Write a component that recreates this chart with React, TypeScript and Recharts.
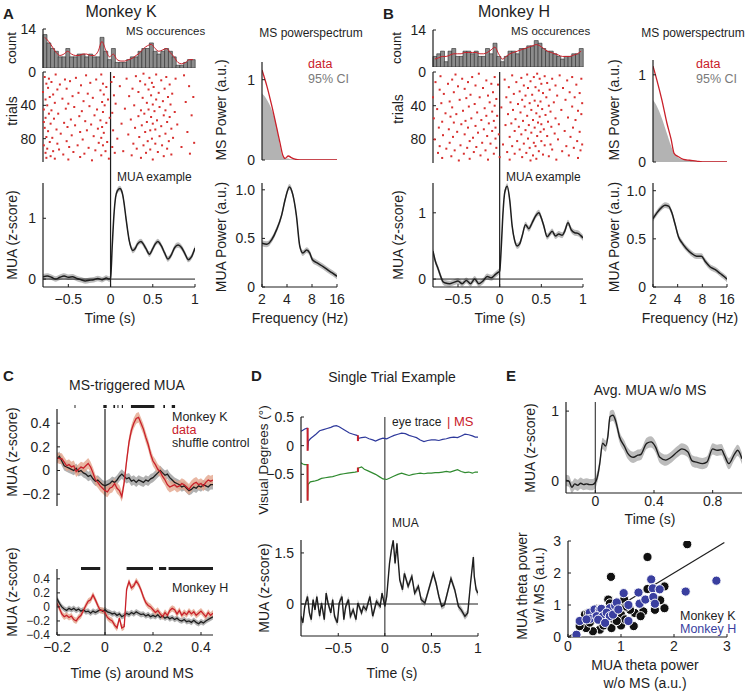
import React from "react";
import {
  ComposedChart,
  ScatterChart,
  Bar,
  Line,
  Area,
  Scatter,
  XAxis,
  YAxis,
  ReferenceLine,
} from "recharts";

// ---------- data ----------
// Panel A (monkey K)
const A_HIST = [12, 9, 7, 6, 4, 4, 7, 4, 4, 5, 5, 4, 5, 4, 4, 11, 6, 3, 7, 2, 2, 2, 3, 4, 4, 6, 7, 7, 9, 6, 5, 6, 7, 6, 4, 1, 1, 2, 3, 3];
const A_SMOOTH = [11, 9.5, 7.5, 5.5, 4.5, 5, 6, 5, 4.5, 4.5, 5, 5, 4.5, 4.5, 6, 9.5, 6.5, 4, 5, 3, 2.5, 2.5, 3, 3.5, 4.5, 5.5, 7, 8, 8.5, 7, 6, 6.5, 7, 5.5, 4, 2, 1.5, 2, 3, 3];
const A_RASTER = [
  [-0.8, 24], [-0.79, 45], [-0.79, 88], [-0.78, 6], [-0.78, 67], [-0.77, 97], [-0.77, 33], [-0.77, 55], [-0.76, 14], [-0.76, 78], [-0.76, 103], [-0.79, 60],
  [-0.75, 40], [-0.75, 92], [-0.74, 19], [-0.74, 71], [-0.73, 50], [-0.73, 8], [-0.72, 84], [-0.72, 30], [-0.71, 101],
  [-0.71, 62], [-0.7, 12], [-0.7, 46], [-0.69, 79], [-0.68, 27], [-0.68, 95], [-0.67, 56],
  [-0.66, 37], [-0.66, 104], [-0.65, 3], [-0.64, 69], [-0.63, 21], [-0.63, 86],
  [-0.62, 50], [-0.61, 93], [-0.6, 15], [-0.59, 74], [-0.57, 32], [-0.56, 99], [-0.55, 61], [-0.54, 9],
  [-0.53, 44], [-0.52, 83], [-0.52, 20], [-0.51, 66], [-0.5, 105], [-0.5, 38], [-0.49, 90],
  [-0.48, 11], [-0.47, 57], [-0.46, 76], [-0.45, 29], [-0.44, 96], [-0.43, 42], [-0.42, 64], [-0.41, 7],
  [-0.39, 88], [-0.38, 25], [-0.37, 53], [-0.36, 102], [-0.36, 72], [-0.35, 16], [-0.34, 47], [-0.33, 81], [-0.32, 35], [-0.31, 98],
  [-0.3, 59], [-0.29, 4], [-0.28, 70], [-0.27, 26], [-0.26, 91], [-0.25, 41], [-0.24, 13], [-0.23, 63], [-0.22, 106],
  [-0.21, 31], [-0.2, 77], [-0.19, 52], [-0.18, 94], [-0.17, 9], [-0.16, 45], [-0.15, 68], [-0.14, 85],
  [-0.12, 22], [-0.12, 58], [-0.11, 3], [-0.11, 79], [-0.11, 100], [-0.1, 36], [-0.1, 66], [-0.09, 14], [-0.09, 48], [-0.09, 88], [-0.08, 27],
  [-0.08, 73], [-0.07, 40], [-0.06, 95], [-0.05, 18], [-0.05, 61], [-0.04, 84], [-0.03, 33], [-0.02, 104], [-0.01, 55],
  [0.01, 12], [0.02, 49], [0.02, 90], [0.03, 70], [0.04, 6], [0.04, 28], [0.05, 97], [0.06, 38], [0.08, 80],
  [0.11, 17], [0.13, 62], [0.15, 95], [0.17, 44], [0.19, 8], [0.21, 75], [0.22, 29],
  [0.24, 57], [0.25, 100], [0.26, 20], [0.27, 86], [0.28, 40], [0.29, 67], [0.3, 5], [0.31, 92],
  [0.33, 24], [0.33, 53], [0.34, 78], [0.35, 11], [0.36, 103], [0.36, 46],
  [0.37, 64], [0.38, 31], [0.39, 88], [0.39, 2], [0.4, 50], [0.41, 72], [0.41, 15],
  [0.42, 97], [0.43, 37], [0.43, 60], [0.44, 83], [0.45, 21], [0.45, 45], [0.46, 7],
  [0.47, 70], [0.47, 93], [0.48, 28], [0.48, 54], [0.49, 13], [0.49, 80], [0.5, 39], [0.5, 105], [0.5, 62],
  [0.51, 18], [0.52, 47], [0.53, 86], [0.53, 69], [0.54, 3], [0.54, 33], [0.55, 58], [0.56, 96], [0.57, 25], [0.58, 77], [0.58, 42],
  [0.6, 10], [0.6, 65], [0.61, 88], [0.62, 35], [0.63, 52], [0.63, 101],
  [0.64, 20], [0.65, 74], [0.65, 46], [0.66, 6], [0.67, 92], [0.67, 60], [0.68, 30],
  [0.69, 83], [0.7, 15], [0.7, 54], [0.71, 39], [0.72, 99], [0.72, 68], [0.73, 26], [0.74, 79], [0.76, 48], [0.77, 8],
  [0.79, 63], [0.84, 90], [0.87, 4], [0.89, 36], [0.91, 72], [0.93, 17], [0.94, 98], [0.96, 52], [0.98, 30], [0.99, 85],
];
const A_MUA_T = [-0.8, -0.75, -0.7, -0.65, -0.6, -0.55, -0.5, -0.45, -0.4, -0.35, -0.3, -0.25, -0.2, -0.15, -0.1, -0.05, -0.02, 0, 0.02, 0.04, 0.06, 0.08, 0.11, 0.14, 0.16, 0.18, 0.2, 0.22, 0.24, 0.26, 0.29, 0.32, 0.36, 0.39, 0.42, 0.46, 0.5, 0.53, 0.56, 0.6, 0.64, 0.68, 0.72, 0.76, 0.8, 0.84, 0.88, 0.92, 0.96, 1.0];
const A_MUA = [0.04, 0.05, 0.03, 0.0, 0.03, 0.05, 0.03, 0.04, 0.01, -0.01, -0.03, -0.02, -0.01, 0.01, -0.01, 0.02, 0.0, 0.01, 0.55, 1.05, 1.35, 1.45, 1.49, 1.41, 1.25, 1.03, 0.82, 0.64, 0.53, 0.47, 0.5, 0.58, 0.62, 0.57, 0.5, 0.41, 0.5, 0.58, 0.62, 0.55, 0.43, 0.33, 0.4, 0.52, 0.56, 0.52, 0.42, 0.32, 0.37, 0.51];
const A_MS_F = [2, 2.29, 2.63, 3.01, 3.3, 3.56, 3.8, 4.15, 4.5, 5, 5.7, 6.5, 8, 10, 12, 16];
const A_MS_DATA = [1.12, 0.92, 0.67, 0.4, 0.21, 0.06, 0.02, 0.05, 0.03, 0.01, 0, 0, 0, 0, 0, 0];
const A_MS_CI = [0.83, 0.75, 0.62, 0.42, 0.17, 0.04, 0.02, 0.02, 0.01, 0.01, 0.01, 0.01, 0.01, 0.01, 0.01, 0.01];
const A_POW_F = [2, 2.29, 2.63, 3.0, 3.45, 3.8, 4.28, 4.7, 5.2, 5.7, 6.2, 6.9, 7.5, 8.1, 9.1, 10.9, 13.1, 14.3, 16];
const A_POW = [0.45, 0.44, 0.49, 0.59, 0.74, 0.9, 1.03, 0.95, 0.73, 0.42, 0.35, 0.38, 0.35, 0.28, 0.25, 0.21, 0.16, 0.14, 0.11];

// Panel B (monkey H)
const B_HIST = [4, 5, 6, 2, 6, 7, 4, 4, 6, 6, 5, 6, 4, 4, 7, 5, 9, 4, 2, 4, 6, 6, 5, 7, 7, 8, 8, 10, 9, 7, 6, 6, 5, 4, 3, 4, 4, 5, 5, 7];
const B_SMOOTH = [3, 3.5, 4, 4, 4.5, 5, 5, 5, 5.5, 5.5, 5.5, 5.5, 5, 5, 5.5, 6.5, 7.5, 5, 3, 4, 5, 5.5, 6, 6.5, 7, 7.5, 8, 8.5, 8, 7, 6, 5.5, 5, 4.5, 4, 4, 4, 4.5, 5, 6];
const B_RASTER = [
  [-0.8, 30], [-0.79, 55], [-0.78, 80], [-0.77, 12], [-0.75, 44], [-0.74, 96], [-0.73, 66], [-0.72, 21], [-0.72, 88],
  [-0.71, 5], [-0.7, 37], [-0.69, 59], [-0.69, 102], [-0.68, 75], [-0.67, 26], [-0.65, 49], [-0.64, 91],
  [-0.62, 14], [-0.61, 68], [-0.6, 35], [-0.6, 84], [-0.59, 53], [-0.58, 100],
  [-0.57, 9], [-0.57, 42], [-0.56, 77], [-0.55, 24], [-0.55, 60], [-0.54, 93], [-0.53, 3],
  [-0.52, 50], [-0.51, 71], [-0.5, 17], [-0.49, 105], [-0.48, 33], [-0.47, 87], [-0.46, 62], [-0.45, 8],
  [-0.44, 46], [-0.43, 97], [-0.42, 20], [-0.42, 74], [-0.41, 58], [-0.4, 31],
  [-0.39, 90], [-0.38, 12], [-0.38, 66], [-0.37, 41], [-0.36, 103], [-0.36, 82],
  [-0.35, 27], [-0.34, 55], [-0.33, 6], [-0.32, 78], [-0.31, 95],
  [-0.3, 38], [-0.29, 64], [-0.29, 16], [-0.28, 89], [-0.27, 48], [-0.26, 72],
  [-0.25, 2], [-0.24, 30], [-0.23, 99], [-0.22, 57], [-0.21, 84], [-0.2, 19], [-0.19, 68], [-0.18, 43],
  [-0.17, 93], [-0.16, 10], [-0.16, 52], [-0.15, 76], [-0.14, 28], [-0.14, 104], [-0.13, 61],
  [-0.12, 36], [-0.11, 85], [-0.1, 14], [-0.09, 70], [-0.09, 47],
  [-0.08, 24], [-0.07, 58], [-0.07, 97], [-0.06, 6], [-0.06, 40], [-0.05, 79], [-0.05, 66], [-0.04, 90], [-0.04, 32],
  [-0.03, 52], [-0.02, 15], [-0.01, 74], [0.0, 101], [0.02, 42], [0.04, 86],
  [0.06, 9], [0.07, 63], [0.08, 30], [0.09, 95],
  [0.1, 50], [0.11, 18], [0.12, 77], [0.12, 104], [0.13, 36], [0.14, 61],
  [0.15, 4], [0.15, 88], [0.16, 45], [0.17, 26], [0.18, 70], [0.18, 97],
  [0.19, 56], [0.2, 12], [0.21, 82], [0.22, 38], [0.23, 65],
  [0.24, 23], [0.24, 92], [0.25, 48], [0.26, 7], [0.26, 74], [0.27, 33], [0.27, 101],
  [0.28, 58], [0.29, 16], [0.29, 85], [0.3, 41], [0.31, 69], [0.31, 28], [0.32, 96],
  [0.33, 3], [0.33, 52], [0.34, 79], [0.34, 19], [0.35, 63], [0.36, 37], [0.36, 90], [0.37, 105],
  [0.37, 11], [0.38, 45], [0.38, 72], [0.39, 27], [0.4, 99], [0.4, 57], [0.41, 84], [0.41, 6],
  [0.42, 34], [0.42, 66], [0.43, 18], [0.43, 88], [0.44, 49], [0.44, 103], [0.45, 2], [0.45, 76], [0.46, 40], [0.46, 60],
  [0.47, 22], [0.47, 94], [0.48, 53], [0.48, 8], [0.49, 71], [0.49, 35], [0.5, 82], [0.5, 14], [0.5, 62],
  [0.51, 44], [0.52, 98], [0.52, 25], [0.53, 68], [0.54, 5], [0.54, 87], [0.55, 51],
  [0.56, 30], [0.57, 76], [0.57, 13], [0.58, 59], [0.59, 100], [0.59, 40],
  [0.6, 21], [0.61, 86], [0.61, 47], [0.62, 65], [0.63, 8], [0.63, 92],
  [0.65, 36], [0.66, 73], [0.67, 16], [0.67, 55], [0.68, 104], [0.69, 28], [0.7, 80], [0.71, 62], [0.72, 4],
  [0.74, 45], [0.75, 94], [0.76, 19], [0.78, 70], [0.79, 33], [0.8, 88], [0.81, 10],
  [0.82, 54], [0.83, 99], [0.84, 24], [0.85, 77], [0.87, 41], [0.87, 6], [0.88, 66], [0.89, 90], [0.9, 30],
  [0.91, 57], [0.92, 15], [0.93, 82], [0.94, 102], [0.94, 46],
  [0.96, 25], [0.96, 71], [0.97, 93], [0.98, 8], [0.98, 50], [0.99, 37], [0.99, 86],
];
const B_MUA_T = [-0.8, -0.77, -0.74, -0.71, -0.68, -0.65, -0.6, -0.55, -0.5, -0.45, -0.4, -0.35, -0.3, -0.25, -0.2, -0.15, -0.1, -0.05, -0.02, 0, 0.02, 0.04, 0.06, 0.09, 0.12, 0.15, 0.18, 0.21, 0.24, 0.27, 0.31, 0.35, 0.39, 0.43, 0.47, 0.5, 0.53, 0.57, 0.6, 0.63, 0.67, 0.71, 0.75, 0.78, 0.82, 0.86, 0.9, 0.94, 0.97, 1.0];
const B_MUA = [0.42, 0.26, 0.16, 0.05, -0.04, -0.06, -0.07, -0.05, -0.03, -0.07, -0.02, -0.07, 0.0, -0.07, -0.03, 0.04, 0.02, 0.07, 0.1, 0.12, 0.5, 1.0, 1.3, 1.4, 1.2, 0.8, 0.58, 0.5, 0.53, 0.65, 0.82, 0.76, 0.85, 0.95, 1.0, 0.92, 0.8, 0.64, 0.68, 0.72, 0.65, 0.68, 0.66, 0.72, 0.85, 0.74, 0.7, 0.69, 0.66, 0.62];
const B_MS_F = [2, 2.23, 2.57, 2.95, 3.33, 3.62, 4.1, 4.7, 5.6, 6.8, 8, 10, 12, 16];
const B_MS_DATA = [1.1, 0.94, 0.71, 0.45, 0.26, 0.1, 0.06, 0.03, 0.02, 0.01, 0, 0, 0, 0];
const B_MS_CI = [0.71, 0.64, 0.5, 0.33, 0.18, 0.1, 0.05, 0.03, 0.02, 0.01, 0.01, 0.01, 0.01, 0.01];
const B_POW_F = [2, 2.23, 2.57, 2.8, 3.1, 3.4, 3.7, 4.1, 4.5, 5.1, 5.9, 6.8, 7.8, 8.6, 9.9, 11.5, 13.2, 15.6, 16];
const B_POW = [0.71, 0.77, 0.83, 0.85, 0.84, 0.77, 0.66, 0.52, 0.46, 0.4, 0.35, 0.32, 0.32, 0.27, 0.21, 0.18, 0.14, 0.09, 0.08];

// Panel C (MS-triggered MUA)
const C_T = [-0.2, -0.19, -0.18, -0.17, -0.16, -0.15, -0.14, -0.13, -0.12, -0.11, -0.1, -0.09, -0.08, -0.07, -0.06, -0.05, -0.04, -0.03, -0.02, -0.01, 0, 0.01, 0.02, 0.03, 0.04, 0.05, 0.06, 0.07, 0.08, 0.09, 0.1, 0.11, 0.12, 0.13, 0.14, 0.15, 0.16, 0.17, 0.18, 0.19, 0.2, 0.21, 0.22, 0.23, 0.24, 0.25, 0.26, 0.27, 0.28, 0.29, 0.3, 0.31, 0.32, 0.33, 0.34, 0.35, 0.36, 0.37, 0.38, 0.39, 0.4, 0.41, 0.42, 0.43, 0.44, 0.45];
const C_K_DATA = [0.11, 0.1, 0.1, 0.07, 0.04, 0.05, 0.03, 0.04, -0.01, 0.01, 0.03, 0.02, 0.04, 0.06, 0.03, -0.02, -0.08, -0.1, -0.13, -0.15, -0.17, -0.18, -0.15, -0.14, -0.11, -0.15, -0.17, -0.22, -0.1, 0.08, 0.24, 0.34, 0.4, 0.44, 0.45, 0.4, 0.35, 0.28, 0.22, 0.14, 0.08, 0.05, 0.01, -0.01, -0.05, -0.08, -0.12, -0.14, -0.13, -0.12, -0.14, -0.13, -0.11, -0.12, -0.14, -0.16, -0.13, -0.11, -0.1, -0.12, -0.11, -0.13, -0.1, -0.08, -0.09, -0.08];
const C_K_SHUF = [0.1, 0.12, 0.08, 0.04, 0.03, 0.02, 0.01, 0.0, 0.02, -0.01, 0.0, -0.02, -0.03, -0.05, -0.04, -0.07, -0.09, -0.08, -0.1, -0.12, -0.13, -0.12, -0.11, -0.09, -0.1, -0.08, -0.05, -0.03, -0.05, -0.07, -0.06, -0.09, -0.08, -0.1, -0.08, -0.09, -0.1, -0.08, -0.09, -0.07, -0.06, -0.04, -0.02, 0.0, -0.02, -0.04, -0.03, -0.06, -0.08, -0.1, -0.11, -0.12, -0.14, -0.13, -0.15, -0.17, -0.16, -0.14, -0.15, -0.13, -0.14, -0.12, -0.13, -0.14, -0.12, -0.12];
const C_H_DATA = [0.05, -0.02, -0.1, -0.14, -0.12, -0.15, -0.13, -0.18, -0.2, -0.15, -0.12, -0.05, 0.02, 0.08, 0.1, 0.17, 0.1, 0.02, -0.05, -0.05, -0.08, -0.15, -0.18, -0.2, -0.26, -0.3, -0.16, -0.3, -0.28, 0.25, 0.36, 0.27, 0.3, 0.37, 0.32, 0.24, 0.14, 0.06, 0.02, 0.0, -0.04, -0.08, -0.05, -0.1, -0.14, -0.08, -0.12, -0.05, -0.02, -0.04, -0.1, -0.05, -0.12, -0.08, -0.11, -0.06, -0.1, -0.07, -0.12, -0.09, -0.06, -0.1, -0.14, -0.08, -0.12, -0.09];
const C_H_SHUF = [0.12, 0.05, 0.0, -0.03, -0.05, -0.02, -0.04, -0.02, -0.05, -0.03, -0.06, -0.04, -0.07, -0.06, -0.09, -0.06, -0.08, -0.06, -0.04, -0.06, -0.04, -0.07, -0.08, -0.1, -0.09, -0.12, -0.1, -0.14, -0.12, -0.09, -0.11, -0.08, -0.1, -0.07, -0.09, -0.11, -0.1, -0.13, -0.11, -0.14, -0.12, -0.14, -0.11, -0.15, -0.13, -0.16, -0.14, -0.17, -0.15, -0.18, -0.16, -0.19, -0.2, -0.18, -0.21, -0.2, -0.22, -0.19, -0.22, -0.24, -0.21, -0.23, -0.2, -0.18, -0.16, -0.14];
const C_K_SIG = [[-0.127, -0.123], [-0.007, 0.007], [0.035, 0.042], [0.052, 0.056], [0.07, 0.075], [0.108, 0.206], [0.243, 0.25], [0.278, 0.292]];
const C_H_SIG = [[-0.1, -0.02], [0.09, 0.2], [0.225, 0.255], [0.265, 0.45]];

// Panel D (single trial)
const EYE_H = [[-0.9, 0.25], [-0.88, 0.27], [-0.86, 0.29], [-0.84, 0.3], [-0.83, 0.3], [-0.828, -0.08], [-0.82, 0.08], [-0.8, 0.12], [-0.77, 0.16], [-0.74, 0.2], [-0.7, 0.26], [-0.66, 0.28], [-0.62, 0.3], [-0.58, 0.32], [-0.55, 0.34], [-0.52, 0.35], [-0.49, 0.33], [-0.46, 0.3], [-0.42, 0.26], [-0.38, 0.22], [-0.34, 0.2], [-0.3, 0.18], [-0.29, 0.17], [-0.288, 0.09], [-0.28, 0.13], [-0.25, 0.14], [-0.21, 0.15], [-0.17, 0.12], [-0.13, 0.1], [-0.1, 0.08], [-0.06, 0.11], [-0.02, 0.13], [0.02, 0.12], [0.06, 0.15], [0.1, 0.18], [0.14, 0.2], [0.18, 0.22], [0.22, 0.21], [0.26, 0.18], [0.3, 0.16], [0.34, 0.14], [0.38, 0.1], [0.42, 0.07], [0.46, 0.09], [0.5, 0.1], [0.54, 0.1], [0.58, 0.09], [0.62, 0.11], [0.66, 0.12], [0.7, 0.14], [0.74, 0.15], [0.78, 0.14], [0.82, 0.17], [0.86, 0.2], [0.9, 0.19], [0.94, 0.17], [0.97, 0.15], [1.0, 0.15]];
const EYE_V = [[-0.9, -0.3], [-0.88, -0.32], [-0.86, -0.33], [-0.84, -0.33], [-0.832, -0.34], [-0.83, -0.95], [-0.825, -0.68], [-0.8, -0.63], [-0.76, -0.62], [-0.72, -0.6], [-0.68, -0.57], [-0.64, -0.56], [-0.6, -0.55], [-0.56, -0.54], [-0.52, -0.52], [-0.48, -0.5], [-0.44, -0.49], [-0.4, -0.48], [-0.36, -0.47], [-0.32, -0.46], [-0.29, -0.45], [-0.288, -0.4], [-0.28, -0.39], [-0.25, -0.37], [-0.22, -0.41], [-0.18, -0.44], [-0.14, -0.47], [-0.1, -0.5], [-0.06, -0.54], [-0.02, -0.58], [0.02, -0.59], [0.06, -0.56], [0.1, -0.53], [0.14, -0.5], [0.18, -0.48], [0.22, -0.5], [0.26, -0.52], [0.3, -0.5], [0.34, -0.49], [0.38, -0.48], [0.42, -0.49], [0.46, -0.48], [0.5, -0.48], [0.54, -0.47], [0.58, -0.47], [0.62, -0.46], [0.66, -0.45], [0.7, -0.46], [0.74, -0.44], [0.78, -0.42], [0.82, -0.45], [0.86, -0.47], [0.9, -0.46], [0.94, -0.48], [0.97, -0.46], [1.0, -0.46]];
const MS_EVENTS = [
  { t: -0.829, h: [0.31, -0.09], v: [-0.32, -0.96] },
  { t: -0.289, h: [0.18, 0.08], v: [-0.46, -0.38] },
];
const D_T = [-0.9, -0.88, -0.86, -0.83, -0.81, -0.79, -0.77, -0.75, -0.73, -0.7, -0.68, -0.65, -0.63, -0.61, -0.58, -0.56, -0.54, -0.51, -0.49, -0.46, -0.44, -0.42, -0.39, -0.37, -0.34, -0.31, -0.29, -0.25, -0.23, -0.2, -0.16, -0.13, -0.09, -0.05, -0.03, 0, 0.02, 0.05, 0.07, 0.09, 0.11, 0.13, 0.14, 0.16, 0.19, 0.21, 0.25, 0.29, 0.32, 0.36, 0.39, 0.43, 0.46, 0.49, 0.52, 0.55, 0.58, 0.61, 0.64, 0.68, 0.71, 0.75, 0.79, 0.82, 0.86, 0.89, 0.92, 0.95, 0.96, 0.98, 1.0];
const D_MUA = [-0.36, -0.55, -0.07, 0.22, -0.26, -0.46, 0.13, -0.17, 0.22, -0.36, 0.03, -0.46, 0.32, 0.03, -0.26, 0.13, -0.36, -0.55, 0.03, 0.22, -0.46, -0.07, 0.13, -0.36, -0.17, -0.46, 0.03, -0.26, -0.07, -0.17, 0.22, -0.36, 0.08, -0.07, 0.32, -0.07, 0.22, 1.19, 1.58, 1.87, 1.19, 1.78, 1.39, 0.71, 0.42, 0.9, 0.52, 0.81, 0.32, 0.52, 0.13, 0.03, 0.32, 0.61, 0.9, 0.61, 0.22, -0.07, -0.02, 0.42, 0.75, 0.42, -0.07, -0.17, -0.36, -0.26, 0.61, 1.38, 0.81, 0.42, 0.32];

// Panel E
const E_T = [-0.2, -0.18, -0.16, -0.14, -0.12, -0.1, -0.08, -0.06, -0.04, -0.02, 0, 0.02, 0.03, 0.05, 0.07, 0.085, 0.1, 0.12, 0.14, 0.165, 0.2, 0.22, 0.26, 0.29, 0.31, 0.35, 0.38, 0.41, 0.44, 0.48, 0.51, 0.56, 0.59, 0.63, 0.66, 0.69, 0.73, 0.76, 0.8, 0.83, 0.86, 0.88, 0.91, 0.95, 0.97, 1.0];
const E_MUA = [0.01, 0.0, -0.09, -0.04, -0.06, -0.03, -0.05, -0.04, -0.05, -0.05, -0.02, 0.12, 0.25, 0.54, 0.5, 0.63, 0.92, 0.94, 0.85, 0.63, 0.49, 0.4, 0.34, 0.37, 0.38, 0.54, 0.56, 0.49, 0.34, 0.3, 0.33, 0.42, 0.46, 0.42, 0.29, 0.27, 0.25, 0.27, 0.46, 0.44, 0.45, 0.37, 0.25, 0.39, 0.44, 0.32];
const THETA_K = [[2.25, 2.9], [1.5, 2.5], [0.81, 1.88], [1.82, 1.58], [1.5, 1.5], [1.82, 0.9], [1.42, 0.8], [1.26, 0.75], [1.17, 0.85], [1.0, 0.7], [1.0, 0.36], [0.82, 0.28], [0.6, 0.23], [0.47, 0.18], [0.34, 0.28], [0.32, 0.7], [0.76, 1.17], [1.06, 1.17], [0.92, 0.85], [0.73, 0.8], [0.6, 0.6], [0.47, 0.55], [0.38, 0.75], [0.7, 0.55], [0.87, 0.55], [1.08, 0.55], [1.24, 0.34], [1.61, 1.2], [1.74, 1.15], [1.64, 0.85], [0.22, 0.34], [0.54, 0.88], [0.79, 1.05], [0.92, 0.5], [1.37, 0.65], [1.1, 0.95], [0.67, 0.36], [0.41, 0.45]];
const THETA_H = [[0.16, 0.07], [0.22, 0.5], [0.41, 0.76], [0.42, 0.57], [0.5, 0.86], [0.6, 0.86], [0.63, 0.88], [0.79, 0.9], [0.89, 0.98], [0.92, 1.08], [1.05, 1.37], [1.14, 0.5], [1.33, 1.39], [1.35, 1.04], [1.46, 1.17], [1.57, 1.8], [1.6, 1.52], [1.61, 1.25], [1.73, 1.49], [1.64, 1.04], [2.22, 1.42], [2.8, 1.76], [0.54, 0.65], [0.66, 0.65], [0.73, 0.76], [0.79, 0.65], [0.85, 0.7], [0.95, 0.86], [0.35, 0.55], [0.57, 0.54], [1.14, 1.0], [0.7, 0.44]];

// ---------- style ----------
const FONT = "'Liberation Sans', Arial, Helvetica, sans-serif";
const INK = "#1e1e1e";
const RED = "#c9202a";
const BAND = "#bcbcbc";
const RED_BAND = "#e3a58c";
const BLUE = "#2f3a9c";
const GREEN = "#2f8a2f";
const DOT_RED = "#d8302f";
const H_BLUE = "#3a3f9f";

const YW = 46;
const PR = 14;
const PAD = 10; // room so edge tick labels are not clipped
// places a chart so that its plot area covers box [x0, y0, x1, y1] of the page
const frame = (b: number[], xh: number, top = 0) => ({
  style: { position: "absolute" as const, left: b[0] - YW, top: b[1] - top - PAD },
  width: b[2] - b[0] + YW + PR,
  height: b[3] - b[1] + top + PAD + (xh > 0 ? xh : PAD),
  margin: { top: top + PAD, right: PR, bottom: xh > 0 ? 0 : PAD, left: 0 },
});
// value that sits `px` pixels above a plot's top edge
const above = (dom: number[], h: number, px: number) => dom[1] + (px * (dom[1] - dom[0])) / h;

const minus = (v: number) => String(v).replace("-", "\u2212");
const tickFont = { fontSize: 14, fill: INK };
const axisLine = { stroke: INK, strokeWidth: 1.2 };
const yAx = (domain: number[], ticks: number[], fmt: (v: number) => string = minus, fs = 14) => ({
  type: "number" as const,
  domain,
  ticks,
  width: YW,
  tick: { fontSize: fs, fill: INK },
  tickFormatter: fmt,
  axisLine,
  tickLine: { stroke: INK },
  tickSize: -3,
  tickMargin: 10,
  interval: 0 as const,
  allowDataOverflow: true,
});
const xAx = (domain: number[], ticks: number[], h: number, gap = 10, fmt: (v: number) => string = minus) => ({
  type: "number" as const,
  dataKey: "t",
  domain,
  ticks,
  height: h,
  tick: h > 0 ? tickFont : false,
  tickFormatter: fmt,
  axisLine,
  tickLine: { stroke: INK },
  tickSize: -3,
  tickMargin: gap,
  interval: 0 as const,
  allowDataOverflow: true,
});

const rows = (t: number[], m: number[], sd: number) => t.map((x, i) => ({ t: x, m: m[i], b: [m[i] - sd, m[i] + sd] }));
const pairs = (p: number[][]) => p.map(([t, y]) => ({ t, y }));

const RasterDot = (p: any) => <rect x={p.cx - 1} y={p.cy - 1} width={2} height={2} fill={DOT_RED} />;
const circle = (fill: string) => (p: any) => <circle cx={p.cx} cy={p.cy} r={4.6} fill={fill} stroke="#fff" strokeWidth={1} />;

function Txt({ x, y, s = 14, c = INK, rot = false, bold = false, left = false, children }: any) {
  return (
    <div
      style={{
        position: "absolute",
        left: x,
        top: y,
        fontSize: s,
        color: c,
        fontWeight: bold ? 700 : 400,
        whiteSpace: "nowrap",
        lineHeight: 1,
        transform: `translate(${left ? "0" : "-50%"},-50%)${rot ? " rotate(-90deg)" : ""}`,
      }}
    >
      {children}
    </div>
  );
}

// ---------- panels A / B ----------
const MONKEYS = [
  {
    hist: A_HIST, smooth: A_SMOOTH, raster: A_RASTER, muaT: A_MUA_T, mua: A_MUA, muaDom: [-0.13, 1.58],
    msF: A_MS_F, msData: A_MS_DATA, msCi: A_MS_CI, msDom: [0, 1.22], powF: A_POW_F, pow: A_POW, powDom: [0, 1.07],
    histBox: [43, 29, 195, 68], rasterBox: [43, 72, 195, 162], muaBox: [43, 183, 195, 287],
    msBox: [262, 62, 337, 160], powBox: [262, 183, 337, 287],
  },
  {
    hist: B_HIST, smooth: B_SMOOTH, raster: B_RASTER, muaT: B_MUA_T, mua: B_MUA, muaDom: [-0.12, 1.45],
    msF: B_MS_F, msData: B_MS_DATA, msCi: B_MS_CI, msDom: [0, 1.17], powF: B_POW_F, pow: B_POW, powDom: [0, 1.08],
    histBox: [433, 30, 583, 67], rasterBox: [433, 72, 583, 163], muaBox: [433, 183, 583, 287],
    msBox: [653, 60, 727, 162], powBox: [653, 183, 727, 287],
  },
];

function Monkey({ m }: any) {
  const hf = frame(m.histBox, 0);
  const rf = frame(m.rasterBox, 0);
  const gap = m.muaBox[1] - m.rasterBox[3];
  const mf = frame(m.muaBox, 26, gap);
  const sf = frame(m.msBox, 0);
  const pf = frame(m.powBox, 26);
  const histRows = m.hist.map((n: number, i: number) => ({ i, n, s: m.smooth[i] }));
  const msRows = m.msF.map((f: number, i: number) => ({ t: f, d: m.msData[i], ci: m.msCi[i] }));
  const powRows = rows(m.powF, m.pow, 0.03);
  const link = above(m.muaDom, m.muaBox[3] - m.muaBox[1], gap);
  return (
    <>
      <div style={hf.style}>
        <ComposedChart width={hf.width} height={hf.height} margin={hf.margin} data={histRows} barCategoryGap={0} barGap={0}>
          <XAxis dataKey="i" type="category" height={0} tick={false} axisLine={false} tickLine={false} />
          <YAxis {...yAx([0, 14], [14])} />
          <Bar dataKey="n" fill="#8c8c8c" stroke="#2a2a2a" strokeWidth={0.6} isAnimationActive={false} />
          <Line dataKey="s" type="monotone" stroke={RED} strokeWidth={1} dot={false} isAnimationActive={false} />
        </ComposedChart>
      </div>
      <div style={rf.style}>
        <ScatterChart width={rf.width} height={rf.height} margin={rf.margin}>
          <XAxis type="number" dataKey="t" domain={[-0.8, 1]} height={0} tick={false} axisLine={false} tickLine={false} />
          <YAxis {...yAx([0, 108], [0, 40, 80])} dataKey="y" reversed />
          <ReferenceLine x={0} stroke={INK} strokeWidth={1.2} />
          <Scatter data={pairs(m.raster)} shape={RasterDot} isAnimationActive={false} />
        </ScatterChart>
      </div>
      <div style={mf.style}>
        <ComposedChart width={mf.width} height={mf.height} margin={mf.margin} data={rows(m.muaT, m.mua, 0.045)}>
          <XAxis {...xAx([-0.8, 1], [-0.5, 0, 0.5, 1], 26)} />
          <YAxis {...yAx(m.muaDom, [0, 1])} />
          <Area dataKey="b" type="monotone" fill={BAND} fillOpacity={1} stroke="none" isAnimationActive={false} />
          <ReferenceLine y={0} stroke={INK} strokeWidth={1} />
          <ReferenceLine segment={[{ x: 0, y: m.muaDom[0] }, { x: 0, y: link }]} ifOverflow="visible" stroke={INK} strokeWidth={1.2} />
          <Line dataKey="m" type="monotone" stroke={INK} strokeWidth={1.5} dot={false} isAnimationActive={false} />
        </ComposedChart>
      </div>
      <div style={sf.style}>
        <ComposedChart width={sf.width} height={sf.height} margin={sf.margin} data={msRows}>
          <XAxis {...xAx([2, 16], [], 0)} scale="log" />
          <YAxis {...yAx(m.msDom, [0, 1])} />
          <Area dataKey="ci" type="monotone" fill="#b3b3b3" fillOpacity={1} stroke="none" isAnimationActive={false} />
          <Line dataKey="d" type="monotone" stroke={RED} strokeWidth={1.3} dot={false} isAnimationActive={false} />
        </ComposedChart>
      </div>
      <div style={pf.style}>
        <ComposedChart width={pf.width} height={pf.height} margin={pf.margin} data={powRows}>
          <XAxis {...xAx([2, 16], [2, 4, 8, 16], 26)} scale="log" />
          <YAxis {...yAx(m.powDom, [0, 0.5, 1], (v: number) => (v === 0 ? "0" : v.toFixed(1)))} />
          <Area dataKey="b" type="monotone" fill={BAND} fillOpacity={1} stroke="none" isAnimationActive={false} />
          <Line dataKey="m" type="monotone" stroke={INK} strokeWidth={1.5} dot={false} isAnimationActive={false} />
        </ComposedChart>
      </div>
    </>
  );
}

// ---------- panel C ----------
const C1_BOX = [57, 409, 213, 506];
const C2_BOX = [57, 569, 213, 635];
const C1_DOM = [-0.3, 0.52];
const C2_DOM = [-0.4, 0.54];

function TriggeredPlot({ box, dom, data, shuf, sig, sigY, top, xh, yTicks, yFont, link }: any) {
  const f = frame(box, xh, top);
  const d = C_T.map((t, i) => ({ t, r: data[i], rb: [data[i] - 0.045, data[i] + 0.045], k: shuf[i], kb: [shuf[i] - 0.04, shuf[i] + 0.04] }));
  return (
    <div style={f.style}>
      <ComposedChart width={f.width} height={f.height} margin={f.margin} data={d}>
        <XAxis {...xAx([-0.2, 0.45], [-0.2, 0, 0.2, 0.4], xh)} />
        <YAxis {...yAx(dom, yTicks, minus, yFont)} />
        <Area dataKey="kb" fill="#a3a3a3" fillOpacity={0.85} stroke="none" isAnimationActive={false} />
        <Area dataKey="rb" fill={RED_BAND} fillOpacity={0.8} stroke="none" isAnimationActive={false} />
        {link !== undefined ? (
          <ReferenceLine segment={[{ x: 0, y: dom[0] }, { x: 0, y: link }]} ifOverflow="visible" stroke={INK} strokeWidth={1.2} />
        ) : (
          <ReferenceLine x={0} stroke={INK} strokeWidth={1.2} />
        )}
        <Line dataKey="k" stroke={INK} strokeWidth={1.3} dot={false} isAnimationActive={false} />
        <Line dataKey="r" stroke={RED} strokeWidth={1.3} dot={false} isAnimationActive={false} />
        {sig.map(([a, b]: number[], i: number) => (
          <ReferenceLine key={i} segment={[{ x: a, y: sigY }, { x: b, y: sigY }]} ifOverflow="visible" stroke={INK} strokeWidth={3} />
        ))}
      </ComposedChart>
    </div>
  );
}

// ---------- panel D ----------
const D1_BOX = [301, 417, 478, 503];
const D2_BOX = [301, 540, 478, 636];
const D1_DOM = [-1, 0.5];
const D2_DOM = [-0.94, 1.88];

// ---------- panel E ----------
const E1_BOX = [566, 402, 742, 493];
const E2_BOX = [568, 541, 727, 637];
const E1_DOM = [-0.17, 1.13];

export default function App() {
  const c1 = C1_BOX;
  const c2top = C2_BOX[1] - C1_BOX[3];
  const d1 = frame(D1_BOX, 0);
  const dGap = D2_BOX[1] - D1_BOX[3];
  const d2 = frame(D2_BOX, 26, dGap);
  const e1 = frame(E1_BOX, 20);
  const e2 = frame(E2_BOX, 22);
  return (
    <div style={{ position: "absolute", left: 0, top: 0, width: 750, height: 691, background: "#fff", fontFamily: FONT, color: INK, overflow: "hidden" }}>
      {MONKEYS.map((m, i) => (
        <Monkey key={i} m={m} />
      ))}

      <TriggeredPlot box={c1} dom={C1_DOM} data={C_K_DATA} shuf={C_K_SHUF} sig={C_K_SIG} sigY={above(C1_DOM, c1[3] - c1[1], 2.5)} top={6} xh={0} yTicks={[-0.2, 0, 0.2, 0.4]} yFont={14} />
      <TriggeredPlot box={C2_BOX} dom={C2_DOM} data={C_H_DATA} shuf={C_H_SHUF} sig={C_H_SIG} sigY={above(C2_DOM, C2_BOX[3] - C2_BOX[1], 0.5)} top={c2top} xh={26} yTicks={[-0.4, -0.2, 0, 0.2, 0.4]} yFont={12} link={above(C2_DOM, C2_BOX[3] - C2_BOX[1], c2top)} />

      <div style={d1.style}>
        <ComposedChart width={d1.width} height={d1.height} margin={d1.margin}>
          <XAxis type="number" dataKey="t" domain={[-0.9, 1]} height={0} tick={false} axisLine={false} tickLine={false} allowDataOverflow />
          <YAxis {...yAx(D1_DOM, [-0.5, 0, 0.5])} dataKey="y" />
          <ReferenceLine x={0} stroke="#444" strokeWidth={1.2} />
          <Line data={pairs(EYE_H)} dataKey="y" stroke={BLUE} strokeWidth={1.2} dot={false} isAnimationActive={false} />
          <Line data={pairs(EYE_V)} dataKey="y" stroke={GREEN} strokeWidth={1.2} dot={false} isAnimationActive={false} />
          {MS_EVENTS.map((e, i) => (
            <ReferenceLine key={"h" + i} segment={[{ x: e.t, y: e.h[0] }, { x: e.t, y: e.h[1] }]} stroke={RED} strokeWidth={2} />
          ))}
          {MS_EVENTS.map((e, i) => (
            <ReferenceLine key={"v" + i} segment={[{ x: e.t, y: e.v[0] }, { x: e.t, y: e.v[1] }]} stroke={RED} strokeWidth={2} />
          ))}
        </ComposedChart>
      </div>
      <div style={d2.style}>
        <ComposedChart width={d2.width} height={d2.height} margin={d2.margin} data={rows(D_T, D_MUA, 0.1)}>
          <XAxis {...xAx([-0.9, 1], [-0.5, 0, 0.5, 1], 26)} />
          <YAxis {...yAx(D2_DOM, [0, 1.5])} />
          <Area dataKey="b" fill={BAND} fillOpacity={1} stroke="none" isAnimationActive={false} />
          <ReferenceLine y={0} stroke={INK} strokeWidth={1} />
          <ReferenceLine segment={[{ x: 0, y: D2_DOM[0] }, { x: 0, y: above(D2_DOM, D2_BOX[3] - D2_BOX[1], dGap) }]} ifOverflow="visible" stroke="#444" strokeWidth={1.2} />
          <Line dataKey="m" stroke={INK} strokeWidth={1.4} dot={false} isAnimationActive={false} />
        </ComposedChart>
      </div>

      <div style={e1.style}>
        <ComposedChart width={e1.width} height={e1.height} margin={e1.margin} data={rows(E_T, E_MUA, 0.08)}>
          <XAxis {...xAx([-0.2, 1], [0, 0.4, 0.8], 20, 6)} />
          <YAxis {...yAx(E1_DOM, [0, 1])} />
          <Area dataKey="b" type="monotone" fill={BAND} fillOpacity={1} stroke="none" isAnimationActive={false} />
          <ReferenceLine x={0} stroke="#444" strokeWidth={1.2} />
          <Line dataKey="m" type="monotone" stroke={INK} strokeWidth={1.4} dot={false} isAnimationActive={false} />
        </ComposedChart>
      </div>
      <div style={e2.style}>
        <ScatterChart width={e2.width} height={e2.height} margin={e2.margin}>
          <XAxis {...xAx([0, 3], [0, 1, 2, 3], 22, 7)} dataKey="x" />
          <YAxis {...yAx([0, 3], [0, 1, 2, 3])} dataKey="y" />
          <ReferenceLine segment={[{ x: 0, y: 0 }, { x: 2.95, y: 2.95 }]} stroke={INK} strokeWidth={1.2} />
          <Scatter data={THETA_K.map(([x, y]) => ({ x, y }))} shape={circle("#111")} isAnimationActive={false} />
          <Scatter data={THETA_H.map(([x, y]) => ({ x, y }))} shape={circle(H_BLUE)} isAnimationActive={false} />
        </ScatterChart>
      </div>

      {/* A */}
      <Txt x={3} y={13} s={15} bold left>A</Txt>
      <Txt x={121} y={12} s={16}>Monkey K</Txt>
      <Txt x={11} y={48} s={13} rot>count</Txt>
      <Txt x={126} y={32} s={11.5} left>MS occurences</Txt>
      <Txt x={12} y={111} s={14} rot>trials</Txt>
      <Txt x={117} y={177} s={12} left>MUA example</Txt>
      <Txt x={12} y={235} s={14} rot>MUA (z-score)</Txt>
      <Txt x={110} y={318} s={14}>Time (s)</Txt>
      <Txt x={311} y={33} s={12}>MS powerspectrum</Txt>
      <Txt x={221} y={110} s={14} rot>MS Power (a.u.)</Txt>
      <Txt x={308} y={64} s={12.5} c={RED} left>data</Txt>
      <Txt x={308} y={79} s={12.5} c="#7a7a7a" left>95% CI</Txt>
      <Txt x={221} y={237} s={14} rot>MUA Power (a.u.)</Txt>
      <Txt x={300} y={318} s={14}>Frequency (Hz)</Txt>

      {/* B */}
      <Txt x={383} y={13} s={15} bold left>B</Txt>
      <Txt x={514} y={12} s={16}>Monkey H</Txt>
      <Txt x={396} y={48} s={13} rot>count</Txt>
      <Txt x={511} y={32} s={11.5} left>MS occurences</Txt>
      <Txt x={398} y={109} s={14} rot>trials</Txt>
      <Txt x={506} y={177} s={12} left>MUA example</Txt>
      <Txt x={398} y={235} s={14} rot>MUA (z-score)</Txt>
      <Txt x={500} y={318} s={14}>Time (s)</Txt>
      <Txt x={693} y={33} s={12}>MS powerspectrum</Txt>
      <Txt x={614} y={110} s={14} rot>MS Power (a.u.)</Txt>
      <Txt x={696} y={64} s={12.5} c={RED} left>data</Txt>
      <Txt x={696} y={79} s={12.5} c="#7a7a7a" left>95% CI</Txt>
      <Txt x={614} y={237} s={14} rot>MUA Power (a.u.)</Txt>
      <Txt x={690} y={318} s={14}>Frequency (Hz)</Txt>

      {/* C */}
      <Txt x={3} y={375} s={15} bold left>C</Txt>
      <Txt x={127} y={385} s={14}>MS-triggered MUA</Txt>
      <Txt x={12} y={452} s={14} rot>MUA (z-score)</Txt>
      <Txt x={12} y={592} s={14} rot>MUA (z-score)</Txt>
      <Txt x={172} y={417} s={12.5} left>Monkey K</Txt>
      <Txt x={172} y={430} s={12.5} c={RED} left>data</Txt>
      <Txt x={172} y={443} s={12.5} left>shuffle control</Txt>
      <Txt x={172} y={588} s={12.5} left>Monkey H</Txt>
      <Txt x={132} y={673} s={14}>Time (s) around MS</Txt>

      {/* D */}
      <Txt x={251} y={375} s={15} bold left>D</Txt>
      <Txt x={392} y={377} s={14}>Single Trial Example</Txt>
      <Txt x={264} y={460} s={13.5} rot>Visual Degrees (°)</Txt>
      <Txt x={392} y={422} s={12} left>eye trace</Txt>
      <Txt x={447} y={421} s={13} c={RED} left>| MS</Txt>
      <Txt x={392} y={523} s={12} left>MUA</Txt>
      <Txt x={264} y={588} s={14} rot>MUA (z-score)</Txt>
      <Txt x={392} y={673} s={14}>Time (s)</Txt>

      {/* E */}
      <Txt x={506} y={375} s={15} bold left>E</Txt>
      <Txt x={650} y={390} s={14}>Avg. MUA w/o MS</Txt>
      <Txt x={530} y={448} s={14} rot>MUA (z-score)</Txt>
      <Txt x={650} y={519} s={14}>Time (s)</Txt>
      <Txt x={522} y={586} s={14} rot>MUA theta power</Txt>
      <Txt x={539} y={585} s={14} rot>w/ MS (a.u.)</Txt>
      <Txt x={680} y={616} s={12.5} left>Monkey K</Txt>
      <Txt x={680} y={629} s={12.5} c={H_BLUE} left>Monkey H</Txt>
      <Txt x={645} y={665} s={14}>MUA theta power</Txt>
      <Txt x={645} y={683} s={14}>w/o MS (a.u.)</Txt>
    </div>
  );
}
